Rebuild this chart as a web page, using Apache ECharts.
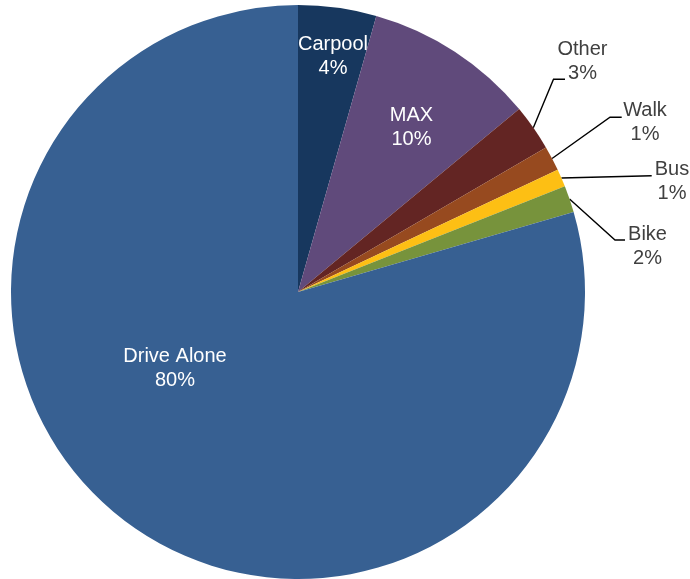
<!DOCTYPE html>
<html>
<head>
<meta charset="utf-8">
<script src="https://cdn.jsdelivr.net/npm/echarts@6/dist/echarts.min.js"></script>
<style>
html,body{margin:0;padding:0;background:#fff;}
#chart{width:690px;height:579px;}
</style>
</head>
<body>
<div id="chart"></div>
<script>
// Data
var categories = ['Carpool', 'MAX', 'Other', 'Walk', 'Bus', 'Bike', 'Drive Alone'];
var shares = [4.4, 9.6, 2.6, 1.4, 1.0, 1.5, 79.5];

// Styles
var colors = ['#17375e', '#604a7b', '#632523', '#974a1f', '#fdbf14', '#77933c', '#376092'];
var insideLabels = { 'Carpool': true, 'MAX': true, 'Drive Alone': true };
// label placement: center of text block, and leader line bend/end relative to it
var labelPlace = {
  'Carpool':     { x: 333,   y: 56 },
  'MAX':         { x: 411.5, y: 127.5 },
  'Drive Alone': { x: 175,   y: 368.5 },
  'Other':       { x: 582.5, y: 61,    bend: [-29, 18.3],  end: [-17.5, 18.3] },
  'Walk':        { x: 645,   y: 122,   bend: [-35, -4.7],  end: [-23.3, -4.7] },
  'Bus':         { x: 672,   y: 181.5, bend: [-20.3, -5.8], end: [-20.3, -5.8] },
  'Bike':        { x: 647.5, y: 246,   bend: [-32.5, -6],  end: [-22.5, -6] }
};

var data = categories.map(function (c, i) {
  var inside = !!insideLabels[c];
  return {
    name: c,
    value: shares[i],
    itemStyle: { color: colors[i] },
    label: {
      position: inside ? 'inside' : 'outside',
      color: inside ? '#ffffff' : '#404040'
    },
    labelLine: { show: !inside }
  };
});

var chart = echarts.init(document.getElementById('chart'), null, { renderer: 'canvas' });
chart.setOption({
  animation: false,
  backgroundColor: '#ffffff',
  series: [{
    type: 'pie',
    center: [298, 292],
    radius: [0, 287],
    startAngle: 90,
    clockwise: true,
    avoidLabelOverlap: false,
    itemStyle: { borderWidth: 0 },
    label: {
      show: true,
      fontFamily: 'Liberation Sans, Arial, sans-serif',
      fontSize: 20,
      lineHeight: 24,
      align: 'center',
      formatter: function (p) { return p.name + '\n' + Math.round(p.value) + '%'; }
    },
    labelLine: {
      show: true,
      length: 20,
      length2: 10,
      lineStyle: { color: '#000000', width: 1.4 }
    },
    labelLayout: function (params) {
      var name = categories[params.dataIndex];
      var pl = labelPlace[name];
      var res = { x: pl.x, y: pl.y, align: 'center', verticalAlign: 'middle' };
      if (pl.end && params.labelLinePoints && params.labelLinePoints.length) {
        var s = params.labelLinePoints[0];
        res.labelLinePoints = [
          [s[0], s[1]],
          [pl.x + pl.bend[0], pl.y + pl.bend[1]],
          [pl.x + pl.end[0], pl.y + pl.end[1]]
        ];
      }
      return res;
    },
    data: data
  }]
});
</script>
</body>
</html>
